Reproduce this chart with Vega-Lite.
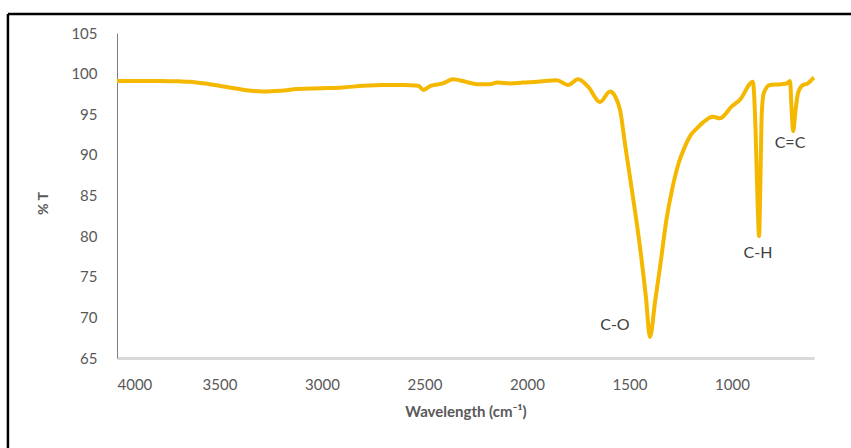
{
  "$schema": "https://vega.github.io/schema/vega-lite/v6.json",
  "width": 697,
  "height": 325,
  "autosize": {"type": "none"},
  "padding": {"left": 117, "top": 33, "right": 37, "bottom": 90},
  "background": "white",
  "config": {
    "view": {"stroke": null},
    "font": "Lato"
  },
  "datasets": {
    "spectrum": [
      {"wn": 4000, "t": 99.1}, {"wn": 3900, "t": 99.1}, {"wn": 3800, "t": 99.1}, {"wn": 3700, "t": 99.05},
      {"wn": 3644, "t": 99.0}, {"wn": 3550, "t": 98.7}, {"wn": 3450, "t": 98.3}, {"wn": 3370, "t": 97.95},
      {"wn": 3288, "t": 97.8}, {"wn": 3200, "t": 97.9}, {"wn": 3122, "t": 98.1}, {"wn": 3000, "t": 98.2},
      {"wn": 2900, "t": 98.3}, {"wn": 2800, "t": 98.5}, {"wn": 2700, "t": 98.6}, {"wn": 2600, "t": 98.6},
      {"wn": 2530, "t": 98.5}, {"wn": 2505, "t": 98.0}, {"wn": 2470, "t": 98.5}, {"wn": 2410, "t": 98.8},
      {"wn": 2361, "t": 99.3}, {"wn": 2300, "t": 99.0}, {"wn": 2244, "t": 98.7}, {"wn": 2180, "t": 98.7},
      {"wn": 2146, "t": 98.9}, {"wn": 2080, "t": 98.8}, {"wn": 2020, "t": 98.9}, {"wn": 1950, "t": 99.0},
      {"wn": 1854, "t": 99.2}, {"wn": 1800, "t": 98.6}, {"wn": 1751, "t": 99.3}, {"wn": 1702, "t": 98.4},
      {"wn": 1644, "t": 96.5}, {"wn": 1595, "t": 97.8}, {"wn": 1570, "t": 97.2}, {"wn": 1546, "t": 95.5},
      {"wn": 1520, "t": 91.0}, {"wn": 1498, "t": 87.3}, {"wn": 1449, "t": 78.7}, {"wn": 1420, "t": 72.5},
      {"wn": 1400, "t": 67.6}, {"wn": 1375, "t": 72.0}, {"wn": 1351, "t": 76.2}, {"wn": 1320, "t": 82.0},
      {"wn": 1290, "t": 86.0}, {"wn": 1260, "t": 89.0}, {"wn": 1230, "t": 91.0}, {"wn": 1205, "t": 92.3},
      {"wn": 1170, "t": 93.3}, {"wn": 1141, "t": 94.0}, {"wn": 1093, "t": 94.7}, {"wn": 1060, "t": 94.5},
      {"wn": 1000, "t": 96.0}, {"wn": 961, "t": 96.8}, {"wn": 898, "t": 99.0}, {"wn": 885, "t": 93.0},
      {"wn": 875, "t": 84.0}, {"wn": 868, "t": 80.0}, {"wn": 862, "t": 86.0}, {"wn": 855, "t": 95.0},
      {"wn": 845, "t": 97.6}, {"wn": 815, "t": 98.6}, {"wn": 760, "t": 98.7}, {"wn": 732, "t": 98.8},
      {"wn": 717, "t": 99.1}, {"wn": 710, "t": 96.0}, {"wn": 702, "t": 92.9}, {"wn": 690, "t": 95.5},
      {"wn": 678, "t": 97.6}, {"wn": 654, "t": 98.6}, {"wn": 630, "t": 98.8}, {"wn": 605, "t": 99.4},
      {"wn": 600, "t": 99.5}
    ],
    "labels": [
      {"wn": 1571, "t": 69.1, "label": "C-O"},
      {"wn": 873, "t": 77.9, "label": "C-H"},
      {"wn": 717, "t": 91.5, "label": "C=C"}
    ]
  },
  "layer": [
    {
      "data": {"name": "spectrum"},
      "mark": {"type": "line", "color": "#F5B800", "strokeWidth": 4, "interpolate": "monotone"},
      "encoding": {
        "x": {
          "field": "wn", "type": "quantitative",
          "scale": {"domain": [600, 4000], "reverse": true, "nice": false, "zero": false},
          "axis": {
            "title": "Wavelength (cm⁻¹)",
            "values": [4000, 3500, 3000, 2500, 2000, 1500, 1000],
            "format": "d",
            "grid": false, "ticks": false,
            "domainColor": "#d9d9d9", "domainWidth": 3,
            "labelFont": "Lato", "labelFontSize": 15, "labelColor": "#595959", "labelPadding": 19,
            "titleFont": "Lato", "titleFontSize": 15, "titleFontWeight": "bold", "titleColor": "#595959", "titlePadding": 12
          }
        },
        "y": {
          "field": "t", "type": "quantitative",
          "scale": {"domain": [65, 105], "nice": false, "zero": false},
          "axis": {
            "title": "% T",
            "values": [65, 70, 75, 80, 85, 90, 95, 100, 105],
            "grid": false, "ticks": false,
            "domainColor": "#7f7f7f", "domainWidth": 1,
            "labelFont": "Lato", "labelFontSize": 15, "labelColor": "#595959", "labelPadding": 20,
            "titleFont": "Lato", "titleFontSize": 14, "titleFontWeight": "bold", "titleColor": "#595959",
            "titleX": -74, "titleY": 170, "titleBaseline": "middle", "titleAlign": "center"
          }
        }
      }
    },
    {
      "data": {"name": "labels"},
      "mark": {"type": "text", "font": "Lato", "fontSize": 16, "color": "#404040"},
      "encoding": {
        "x": {"field": "wn", "type": "quantitative"},
        "y": {"field": "t", "type": "quantitative"},
        "text": {"field": "label"}
      }
    },
    {
      "data": {"values": [{}]},
      "mark": {"type": "rule", "color": "black", "strokeWidth": 2.5, "clip": false},
      "encoding": {
        "x": {"datum": 4532},
        "y": {"datum": 107.35},
        "y2": {"datum": 50}
      }
    },
    {
      "data": {"values": [{}]},
      "mark": {"type": "rule", "color": "black", "strokeWidth": 2.5, "clip": false},
      "encoding": {
        "x": {"datum": 4532},
        "x2": {"datum": 0},
        "y": {"datum": 107.35}
      }
    }
  ]
}
